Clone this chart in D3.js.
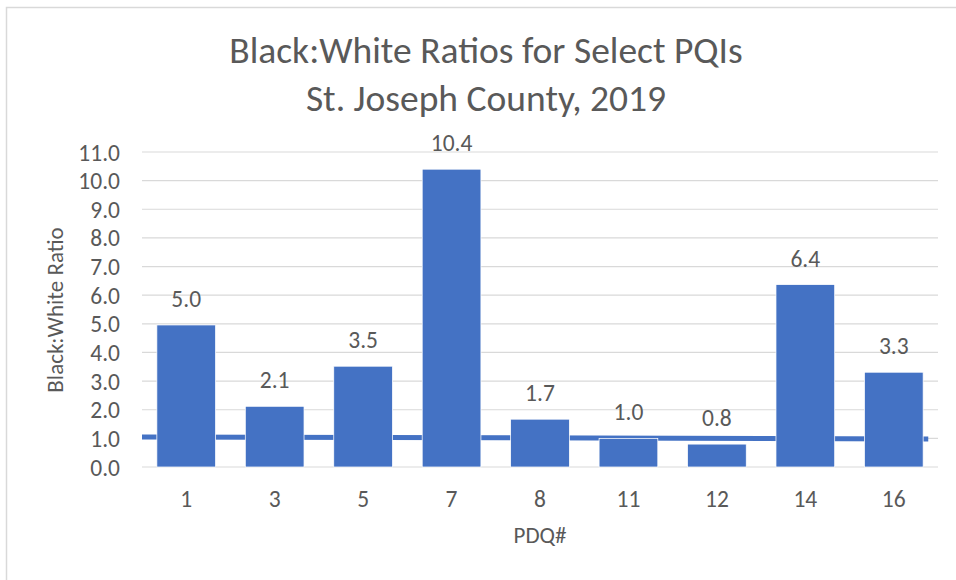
<!DOCTYPE html>
<html>
<head>
<meta charset="utf-8">
<script src="https://cdn.jsdelivr.net/npm/d3@7"></script>
<style>
  html, body { margin: 0; padding: 0; background: #fff; }
  svg { display: block; font-family: Calibri, Carlito, Lato, sans-serif; }
</style>
</head>
<body>
<div id="chart"></div>
<script>
// Black:White ratios for select PQIs, St. Joseph County 2019
const pdqs    = ['1', '3', '5', '7', '8', '11', '12', '14', '16'];
const ratios  = [4.96, 2.12, 3.52, 10.4, 1.67, 1.0, 0.8, 6.37, 3.31];
const yTicks  = [0, 1, 2, 3, 4, 5, 6, 7, 8, 9, 10, 11];
// parity reference line (start / end, in category units along the axis)
const refLine = [{ pos: 0, v: 1.05 }, { pos: 8.89, v: 0.98 }];

const W = 956, H = 580;
const margin = { top: 152, right: 18, bottom: 113, left: 142 };
const TEXT = '#595959';
const BLUE = '#4472C4';
const FONT = 'Calibri, Carlito, Lato, sans-serif';

const svg = d3.select('#chart').append('svg')
  .attr('width', W).attr('height', H);

// chart-area frame
svg.append('rect')
  .attr('x', 6.5).attr('y', 7.5)
  .attr('width', 1000).attr('height', 1000)
  .attr('fill', 'none').attr('stroke', '#d9d9d9').attr('stroke-width', 1.5);

const x = d3.scaleBand()
  .domain(pdqs)
  .range([margin.left, W - margin.right])
  .paddingInner(0.336).paddingOuter(0.168);

const xLin = d3.scaleLinear()
  .domain([0, pdqs.length])
  .range([margin.left, W - margin.right]);

const y = d3.scaleLinear()
  .domain([0, 11])
  .range([H - margin.bottom, margin.top]);

// gridlines
svg.append('g')
  .selectAll('line')
  .data(yTicks)
  .join('line')
  .attr('x1', margin.left).attr('x2', W - margin.right)
  .attr('y1', d => y(d)).attr('y2', d => y(d))
  .attr('stroke', '#d9d9d9').attr('stroke-width', 1.2);

// y axis labels
const yAxis = svg.append('g')
  .attr('transform', `translate(${margin.left - 22},0)`)
  .call(d3.axisLeft(y).tickValues(yTicks).tickFormat(d3.format('.1f')).tickSize(0).tickPadding(0));
yAxis.select('.domain').remove();
yAxis.selectAll('text')
  .attr('dy', '0.34em')
  .attr('fill', TEXT).attr('font-size', 23.5).attr('font-family', FONT);

// reference line (behind bars)
svg.append('path')
  .datum(refLine)
  .attr('d', d3.line().x(d => xLin(d.pos)).y(d => y(d.v)))
  .attr('fill', 'none')
  .attr('stroke', BLUE)
  .attr('stroke-width', 5);

// bars
svg.append('g')
  .selectAll('rect')
  .data(pdqs.map((p, i) => ({ p, v: ratios[i] })))
  .join('rect')
  .attr('x', d => x(d.p))
  .attr('width', x.bandwidth())
  .attr('y', d => y(d.v))
  .attr('height', d => y(0) - y(d.v))
  .attr('fill', BLUE)
  .attr('stroke', '#fff')
  .attr('stroke-width', 0.75);

// data labels
svg.append('g')
  .selectAll('text')
  .data(pdqs.map((p, i) => ({ p, v: ratios[i] })))
  .join('text')
  .attr('x', d => x(d.p) + x.bandwidth() / 2)
  .attr('y', d => y(d.v) - 18)
  .attr('text-anchor', 'middle')
  .attr('fill', TEXT)
  .attr('font-size', 23.5)
  .text(d => d3.format('.1f')(d.v));

// x axis labels
const xAxis = svg.append('g')
  .attr('transform', `translate(0,${H - margin.bottom + 40})`)
  .call(d3.axisBottom(x).tickSize(0).tickPadding(0));
xAxis.select('.domain').remove();
xAxis.selectAll('text')
  .attr('dy', 0)
  .attr('fill', TEXT).attr('font-size', 23.5).attr('font-family', FONT);

// axis titles
svg.append('text')
  .attr('x', (margin.left + W - margin.right) / 2)
  .attr('y', 543)
  .attr('text-anchor', 'middle')
  .attr('fill', TEXT).attr('font-size', 23)
  .text('PDQ#');

svg.append('text')
  .attr('transform', 'translate(63,310) rotate(-90)')
  .attr('text-anchor', 'middle')
  .attr('fill', TEXT).attr('font-size', 23)
  .text('Black:White Ratio');

// title
const title = svg.append('text')
  .attr('text-anchor', 'middle')
  .attr('fill', TEXT).attr('font-size', 37.5);
title.append('tspan').attr('x', 486).attr('y', 63).text('Black:White Ratios for Select PQIs');
title.append('tspan').attr('x', 486).attr('y', 111).text('St. Joseph County, 2019');
</script>
</body>
</html>
